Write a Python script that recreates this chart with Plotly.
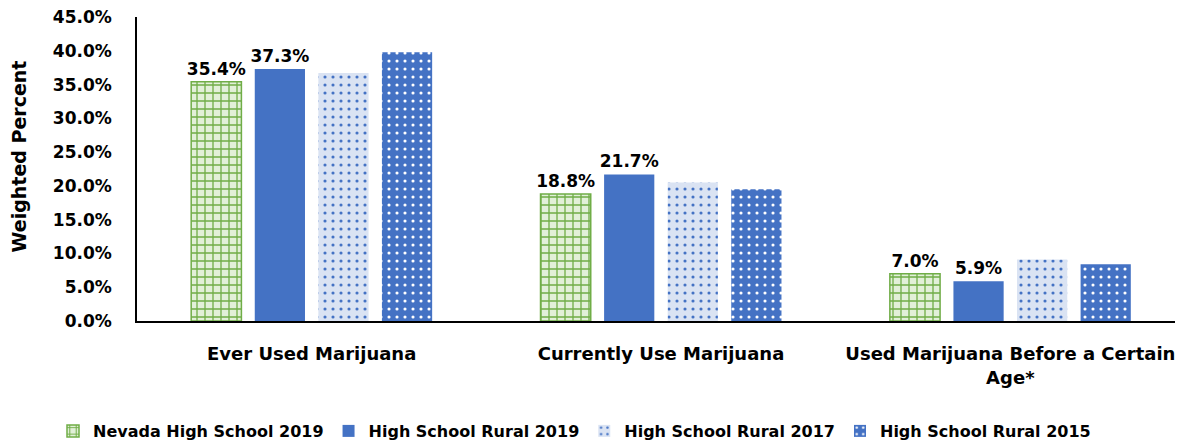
import plotly.graph_objects as go

categories = ["Ever Used Marijuana", "Currently Use Marijuana",
              "Used Marijuana Before a Certain<br>Age*"]
series_names = ["Nevada High School 2019", "High School Rural 2019",
                "High School Rural 2017", "High School Rural 2015"]
nevada_2019 = [35.4, 18.8, 7.0]
rural_2019 = [37.3, 21.7, 5.9]
rural_2017 = [36.7, 20.5, 9.1]
rural_2015 = [39.8, 19.5, 8.4]
y_ticks = [0, 5, 10, 15, 20, 25, 30, 35, 40, 45]

FONT = "DejaVu Sans, sans-serif"
GREEN = "#70ad47"
LGREEN = "#e2f0d9"
BLUE = "#4472c4"
LBLUE = "#dae3f3"

W, H = 1183, 447
L, R, T, B = 129, 6, 9, 134
PW, PH = W - L - R, H - T - B

fig = go.Figure()

fig.add_bar(
    x=categories, y=nevada_2019, name=series_names[0],
    text=[f"{v:.1f}%" for v in nevada_2019], textposition="outside",
    constraintext="none",
    textfont=dict(family=FONT, size=17, color="black", weight="bold"),
    marker=dict(color=LGREEN, line=dict(color=GREEN, width=1.5),
                pattern=dict(shape="+", fgcolor=GREEN, bgcolor=LGREEN,
                             fillmode="replace", size=8, solidity=0.3)),
    cliponaxis=False,
)
fig.add_bar(
    x=categories, y=rural_2019, name=series_names[1],
    text=[f"{v:.1f}%" for v in rural_2019], textposition="outside",
    constraintext="none",
    textfont=dict(family=FONT, size=17, color="black", weight="bold"),
    marker=dict(color=BLUE, line=dict(width=0)),
    cliponaxis=False,
)
fig.add_bar(
    x=categories, y=rural_2017, name=series_names[2],
    marker=dict(color=LBLUE, line=dict(width=0),
                pattern=dict(shape=".", fgcolor=BLUE, bgcolor=LBLUE,
                             fillmode="replace", size=8, solidity=0.12)),
)
fig.add_bar(
    x=categories, y=rural_2015, name=series_names[3],
    marker=dict(color=BLUE, line=dict(width=0),
                pattern=dict(shape=".", fgcolor="white", bgcolor=BLUE,
                             fillmode="replace", size=8, solidity=0.12)),
)

fig.add_annotation(
    text="Weighted Percent", textangle=-90, showarrow=False,
    xref="paper", yref="paper",
    x=(10 - L) / PW, y=(H - B - 148.5) / PH,
    xanchor="center", yanchor="middle",
    font=dict(family=FONT, size=19, color="black", weight="bold"),
)

fig.update_layout(
    width=W, height=H,
    margin=dict(l=L, r=R, t=T, b=B, autoexpand=False),
    paper_bgcolor="white", plot_bgcolor="white",
    barmode="group", bargap=0.272, bargroupgap=0.21,
    font=dict(family=FONT, size=16, color="black"),
    showlegend=True,
    legend=dict(orientation="h", xref="container", x=45 / W, xanchor="left",
                yref="container", y=24 / H, yanchor="middle",
                font=dict(family=FONT, size=16, color="black", weight="bold"),
                itemwidth=30, tracegroupgap=0, traceorder="normal"),
)
fig.update_yaxes(
    range=[0, 45], tickvals=y_ticks,
    ticktext=[f"{v:.1f}%" for v in y_ticks],
    showgrid=False, zeroline=False, automargin=False,
    showline=True, linecolor="black", linewidth=1.5,
    ticks="", ticklabelstandoff=20, ticklabeloverflow="allow",
    tickfont=dict(family=FONT, size=17, color="black", weight="bold"),
)
fig.update_xaxes(
    showgrid=False, showline=True, linecolor="black", linewidth=1.5,
    ticks="", automargin=False, tickangle=0, ticklabelstandoff=16,
    tickfont=dict(family=FONT, size=18, color="black", weight="bold"),
)

fig.write_html("out.html")
